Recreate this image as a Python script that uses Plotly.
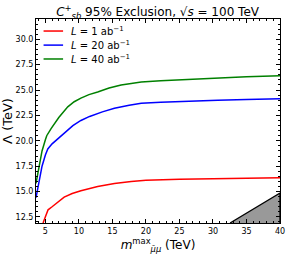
import plotly.graph_objects as go

# L = 1 ab^-1
x_l1 = [4.65, 5.0, 5.4, 6.0, 6.6, 7.8, 9.0, 10.3, 12.8, 15.3, 17.8, 20.0, 25.0, 30.0, 35.0, 40.0]
y_l1 = [11.9, 12.6, 13.2, 13.5, 13.8, 14.45, 14.8, 15.07, 15.5, 15.8, 16.0, 16.1, 16.2, 16.25, 16.3, 16.35]

# L = 20 ab^-1
x_l20 = [3.6, 4.0, 4.5, 5.0, 5.36, 6.0, 6.85, 8.0, 9.1, 10.3, 11.6, 13.5, 15.3, 17.5, 19.3, 22.2, 26.0, 30.7, 35.0, 40.0]
y_l20 = [14.4, 15.9, 17.5, 18.6, 19.2, 19.7, 20.2, 20.9, 21.5, 22.0, 22.4, 22.85, 23.2, 23.5, 23.7, 23.8, 23.92, 24.0, 24.08, 24.15]

# L = 40 ab^-1
x_l40 = [3.6, 4.0, 4.5, 5.0, 5.2, 5.85, 7.0, 8.34, 9.3, 10.3, 11.5, 12.8, 14.5, 16.3, 19.3, 22.2, 26.0, 30.7, 35.0, 40.0]
y_l40 = [15.8, 17.3, 19.0, 20.1, 20.5, 21.2, 22.3, 23.35, 23.85, 24.2, 24.55, 24.8, 25.2, 25.5, 25.8, 25.92, 26.05, 26.2, 26.3, 26.4]

# excluded (shaded) region
shade_x = [32.55, 40.0, 40.0]
shade_y = [11.9, 14.85, 11.9]

series_names = ["<i>L</i> = 1 ab<sup>−1</sup>", "<i>L</i> = 20 ab<sup>−1</sup>", "<i>L</i> = 40 ab<sup>−1</sup>"]
series_colors = ["#ff0000", "#0000ff", "#008000"]

x_range = [3.6, 40.0]
y_range = [11.9, 32.0]

FONT = "DejaVu Sans"

fig = go.Figure()
fig.add_trace(go.Scatter(x=shade_x, y=shade_y, fill="toself", fillcolor="#999999",
                         line=dict(color="black", width=1.3), mode="lines",
                         showlegend=False, hoverinfo="skip"))
for xs, ys, nm, col in zip([x_l1, x_l20, x_l40], [y_l1, y_l20, y_l40], series_names, series_colors):
    fig.add_trace(go.Scatter(x=xs, y=ys, mode="lines", line=dict(color=col, width=1.5),
                             name=nm, showlegend=False))

# manual legend (short line swatches, tight spacing as in the reference)
leg_y = [0.941, 0.872, 0.804]
for ly, nm, col in zip(leg_y, series_names, series_colors):
    fig.add_shape(type="line", xref="paper", yref="paper", x0=0.031, x1=0.111, y0=ly, y1=ly,
                  line=dict(color=col, width=1.5))
    fig.add_annotation(xref="paper", yref="paper", x=0.135, y=ly, xanchor="left", yanchor="middle",
                       text=nm, showarrow=False,
                       font=dict(family=FONT, size=10, color="black"))

axis_common = dict(showline=True, linecolor="black", linewidth=1, mirror="ticks",
                   ticks="inside", ticklen=4, tickwidth=1, tickcolor="black",
                   showgrid=False, zeroline=False, automargin=False,
                   tickfont=dict(family=FONT, size=8, color="black"))

fig.update_xaxes(range=x_range, tick0=5, dtick=5,
                 minor=dict(ticks="inside", ticklen=2, dtick=1, tickcolor="black"),
                 title=dict(text="<i>m</i><sup>max</sup><sub><i>μ̄μ</i></sub> (TeV)",
                            font=dict(family=FONT, size=12, color="black"), standoff=6),
                 **axis_common)
fig.update_yaxes(range=y_range, tick0=12.5, dtick=2.5, tickformat=".1f",
                 minor=dict(ticks="inside", ticklen=2, dtick=0.5, tickcolor="black"),
                 title=dict(text="Λ (TeV)", font=dict(family=FONT, size=13, color="black"),
                            standoff=5),
                 **axis_common)

fig.update_layout(
    width=306, height=255,
    margin=dict(l=35.5, r=26, t=19, b=32, pad=0, autoexpand=False),
    paper_bgcolor="white", plot_bgcolor="white",
    title=dict(text="<i>C</i><sup>+</sup><sub><i>sb</i></sub> 95% Exclusion, √<i>s</i> = 100 TeV",
               x=0.515, xanchor="center", y=0.952, yanchor="middle", automargin=False,
               font=dict(family=FONT, size=12, color="black")),
    showlegend=False,
)

fig.write_html("out.html",
               config={"displayModeBar": False},
               post_script="document.body.style.margin='0';document.body.style.overflow='hidden';")
